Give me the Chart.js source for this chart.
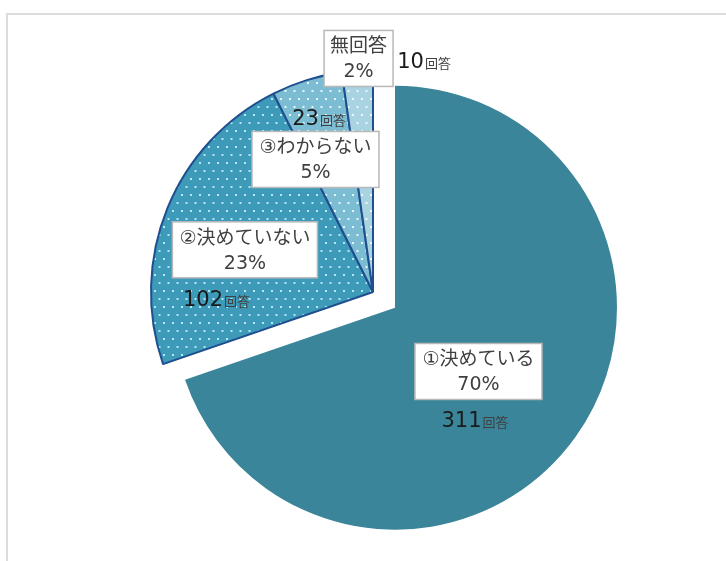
<!DOCTYPE html>
<html lang="ja">
<head>
<meta charset="utf-8">
<script src="https://cdn.jsdelivr.net/npm/chart.js@4/dist/chart.umd.min.js"></script>
<style>
    html, body { margin: 0; padding: 0; background: #fff; }
    #wrap { position: relative; width: 726px; height: 561px; overflow: hidden; }
    #frame {
        position: absolute; left: 6px; top: 13px; right: -10px; bottom: -10px;
        border-top: 2px solid #dcdcdc; border-left: 2px solid #dcdcdc;
    }
    #chart { position: absolute; left: 0; top: 0; }
</style>
</head>
<body>
<div id="wrap">
    <div id="frame"></div>
    <canvas id="chart" width="726" height="561"></canvas>
</div>
<script>
// --- DATA ---
const labels = ['①決めている', '②決めていない', '③わからない', '無回答'];
const counts = [311, 102, 23, 10];
const percents = ['70%', '23%', '5%', '2%'];
const countUnit = '回答';

// --- STYLE ---
const baseColors = ['#3a8599', '#3d9ab8', '#7dbdd3', '#a8d3e1'];
const dotColors = [null, '#b4e6f4', '#e6f6fb', '#eef8fb'];
const edgeColor = '#1f4f8f';
const explode = [27, 0, 0, 0];   // pulled-out distance of each slice (px)
const FONT = '"DejaVu Sans", "Noto Sans CJK JP", sans-serif';
const CJK = '"Noto Sans CJK JP", sans-serif';

// label placement, relative to pie centre in units of radius
const boxLayout = [
    { cx: 0.475, cy: 0.358, w: 127 },
    { cx: -0.577, cy: -0.190, w: 145 },
    { cx: -0.259, cy: -0.597, w: 127 },
    { cx: -0.065, cy: -1.052, w: 69 }
];
const countLayout = [
    { cx: 0.457, cy: 0.572 },
    { cx: -0.707, cy: 0.027 },
    { cx: -0.245, cy: -0.788 },
    { cx: 0.228, cy: -1.045 }
];

// staggered dot fill, like the Excel pattern
function dotPattern(base, dot) {
    if (!dot) return base;
    const c = document.createElement('canvas');
    c.width = 9; c.height = 16;
    const g = c.getContext('2d');
    g.fillStyle = base;
    g.fillRect(0, 0, 9, 16);
    g.fillStyle = dot;
    g.fillRect(1, 2, 2, 2);
    g.fillRect(5.5, 10, 2, 2);
    return g.createPattern(c, 'repeat');
}

// pull exploded slices out along their mid angle, keeping their radius
const explodeSlices = {
    id: 'explodeSlices',
    afterDatasetsUpdate(chart) {
        chart.getDatasetMeta(0).data.forEach((arc, i) => {
            const d = explode[i] || 0;
            if (!d) return;
            const mid = (arc.startAngle + arc.endAngle) / 2;
            arc.x += Math.cos(mid) * d;
            arc.y += Math.sin(mid) * d;
        });
    }
};

const pieLabels = {
    id: 'pieLabels',
    afterDatasetsDraw(chart) {
        const ctx = chart.ctx;
        const arcs = chart.getDatasetMeta(0).data;
        const ref = arcs[1];
        const x0 = ref.x, y0 = ref.y, r = ref.outerRadius;

        ctx.save();
        labels.forEach((name, i) => {
            const b = boxLayout[i];
            const bx = x0 + b.cx * r, by = y0 + b.cy * r;
            const h = 56;
            ctx.fillStyle = '#ffffff';
            ctx.strokeStyle = '#b8b8b8';
            ctx.lineWidth = 1.5;
            ctx.fillRect(bx - b.w / 2, by - h / 2, b.w, h);
            ctx.strokeRect(bx - b.w / 2, by - h / 2, b.w, h);

            ctx.textAlign = 'center';
            ctx.textBaseline = 'middle';
            ctx.fillStyle = '#404040';
            ctx.font = '19px ' + FONT;
            ctx.fillText(name, bx, by - 11);
            ctx.fillText(percents[i], bx, by + 14);

            // count + small unit
            const c = countLayout[i];
            const cx = x0 + c.cx * r, cy = y0 + c.cy * r;
            const num = String(counts[i]);
            ctx.font = '21px ' + FONT;
            const nw = ctx.measureText(num).width;
            ctx.font = '13px ' + CJK;
            const uw = ctx.measureText(countUnit).width;
            const left = cx - (nw + uw) / 2;
            ctx.textAlign = 'left';
            ctx.textBaseline = 'alphabetic';
            ctx.fillStyle = '#1a1a1a';
            ctx.font = '21px ' + FONT;
            ctx.fillText(num, left, cy + 8);
            ctx.fillStyle = '#404040';
            ctx.font = '13px ' + CJK;
            ctx.fillText(countUnit, left + nw + 1, cy + 8);
        });
        ctx.restore();
    }
};

new Chart(document.getElementById('chart'), {
    type: 'pie',
    data: {
        labels: labels,
        datasets: [{
            data: counts,
            backgroundColor: baseColors.map((c, i) => dotPattern(c, dotColors[i])),
            borderColor: [baseColors[0], edgeColor, edgeColor, edgeColor],
            borderWidth: [0, 2, 2, 2],
            clip: false
        }]
    },
    options: {
        responsive: false,
        animation: false,
        layout: { padding: { left: 150, top: 69, right: 130, bottom: 46 } },
        plugins: {
            legend: { display: false },
            tooltip: { enabled: false }
        }
    },
    plugins: [explodeSlices, pieLabels]
});
</script>
</body>
</html>
